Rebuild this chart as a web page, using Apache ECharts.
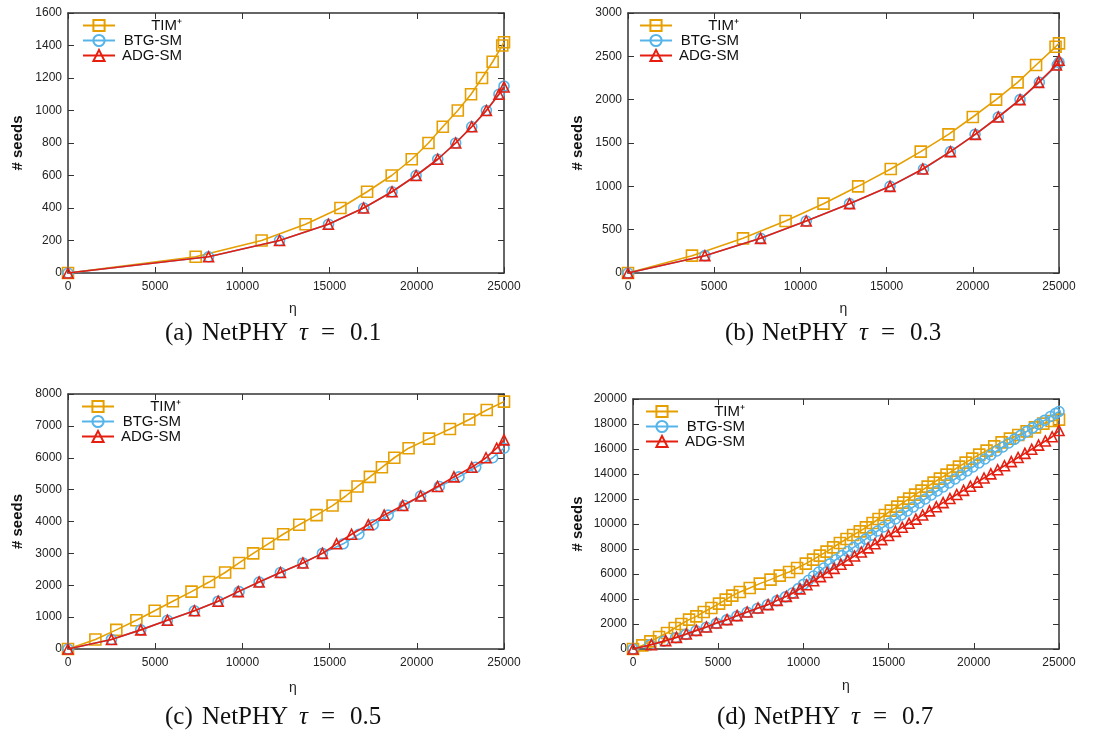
<!DOCTYPE html>
<html>
<head>
<meta charset="utf-8">
<script src="https://cdn.jsdelivr.net/npm/echarts@6/dist/echarts.min.js"></script>
<style>
html,body{margin:0;padding:0;background:#fff;}
#chart{width:1106px;height:733px;}
</style>
</head>
<body>
<div id="chart"></div>
<script>
// ---------- data (η, # seeds) ----------
const seriesNames = ['TIM\u207A', 'BTG-SM', 'ADG-SM'];
const captionLetters = ['(a)', '(b)', '(c)', '(d)'];
const captionNet = 'NetPHY';
const tauValues = ['0.1', '0.3', '0.5', '0.7'];
const yMaxes = [1600, 3000, 8000, 20000];
const yIntervals = [200, 500, 1000, 2000];
const xMax = 25000, xInterval = 5000;

const a_tim = [[0,0],[7320,100],[11100,200],[13620,300],[15620,400],[17150,500],[18560,600],[19710,700],[20670,800],[21490,900],[22350,1000],[23110,1100],[23740,1200],[24350,1300],[24900,1400],[25000,1420]];
const a_btg = [[0,0],[8060,100],[12130,200],[14940,300],[16960,400],[18580,500],[19960,600],[21200,700],[22230,800],[23150,900],[23990,1000],[24710,1100],[25000,1150]];
const a_adg = [[0,0],[8060,100],[12130,200],[14930,300],[16950,400],[18580,500],[19960,600],[21200,700],[22230,800],[23150,900],[23990,1000],[24710,1100],[25000,1145]];

const b_tim = [[0,0],[3710,200],[6670,400],[9140,600],[11340,800],[13350,1000],[15240,1200],[16980,1400],[18590,1600],[20000,1800],[21350,2000],[22600,2200],[23670,2400],[24800,2610],[25000,2650]];
const b_btg = [[0,0],[4460,200],[7690,400],[10340,600],[12850,800],[15200,1000],[17140,1200],[18700,1400],[20130,1600],[21480,1800],[22740,2000],[23860,2200],[24900,2400],[25000,2430]];
const b_adg = [[0,0],[4460,200],[7690,400],[10340,600],[12850,800],[15200,1000],[17100,1200],[18700,1400],[20150,1600],[21480,1800],[22740,2000],[23820,2200],[24850,2400],[25000,2455]];

const c_tim = [[0,0],[1570,300],[2770,600],[3920,900],[4970,1200],[6010,1500],[7080,1800],[8090,2100],[9010,2400],[9810,2700],[10620,3000],[11480,3300],[12340,3600],[13260,3900],[14250,4200],[15170,4500],[15930,4800],[16600,5100],[17310,5400],[18000,5700],[18710,6000],[19530,6300],[20700,6600],[21900,6900],[23010,7200],[24010,7500],[25000,7760]];
const c_btg = [[0,0],[2490,300],[4170,600],[5700,900],[7250,1200],[8610,1500],[9810,1800],[10960,2100],[12180,2400],[13470,2700],[14590,3000],[15780,3300],[16680,3600],[17500,3900],[18360,4200],[19280,4500],[20220,4800],[21290,5100],[22420,5400],[23380,5700],[24350,6000],[25000,6300]];
const c_adg = [[0,0],[2490,300],[4170,600],[5700,900],[7250,1200],[8610,1500],[9760,1800],[10960,2100],[12180,2400],[13470,2700],[14590,3000],[15400,3300],[16260,3600],[17220,3900],[18130,4200],[19190,4500],[20220,4800],[21190,5100],[22130,5400],[23150,5700],[23970,6000],[24580,6300],[25000,6560]];

const d_tim = [[0,0],[550,290],[1020,610],[1530,960],[2000,1280],[2450,1680],[2840,2000],[3290,2350],[3720,2610],[4150,2960],[4600,3280],[5050,3630],[5440,3950],[5830,4270],[6270,4560],[6850,4880],[7440,5230],[8070,5550],[8610,5870],[9160,6160],[9630,6480],[10140,6830],[10570,7150],[10960,7470],[11360,7790],[11750,8130],[12140,8480],[12530,8800],[12920,9120],[13310,9410],[13670,9730],[14060,10080],[14410,10400],[14780,10720],[15130,11070],[15510,11390],[15860,11710],[16210,12030],[16560,12350],[16930,12670],[17290,12990],[17640,13310],[18010,13630],[18400,13950],[18760,14270],[19130,14590],[19520,14910],[19910,15230],[20320,15550],[20750,15870],[21200,16210],[21630,16530],[22120,16830],[22610,17120],[23100,17410],[23590,17730],[24080,18030],[24570,18240],[25000,18350]];
const d_btg = [[0,0],[1000,330],[1800,620],[2500,900],[3100,1170],[3700,1460],[4300,1740],[4900,2050],[5500,2330],[6100,2640],[6700,2940],[7300,3240],[7900,3540],[8450,3870],[8950,4170],[9350,4480],[9700,4830],[10000,5170],[10300,5500],[10600,5840],[10900,6160],[11200,6480],[11550,6810],[11900,7140],[12250,7470],[12600,7800],[12950,8130],[13300,8460],[13650,8790],[14000,9110],[14350,9440],[14700,9760],[15050,10080],[15400,10400],[15750,10720],[16100,11040],[16450,11360],[16800,11680],[17150,12000],[17500,12320],[17850,12640],[18200,12960],[18550,13280],[18900,13600],[19250,13920],[19600,14240],[19950,14560],[20300,14880],[20650,15200],[21000,15520],[21350,15840],[21700,16160],[22050,16480],[22400,16790],[22750,17090],[23100,17390],[23450,17690],[23800,17990],[24150,18290],[24500,18600],[24800,18850],[25000,19000]];
const d_adg = [[0,0],[1080,350],[1920,670],[2550,930],[3130,1200],[3720,1490],[4310,1760],[4890,2080],[5520,2350],[6110,2670],[6700,2960],[7340,3280],[7930,3550],[8460,3890],[9000,4210],[9400,4480],[9800,4810],[10200,5140],[10600,5460],[11000,5790],[11400,6120],[11800,6450],[12200,6780],[12600,7110],[13000,7440],[13400,7760],[13800,8090],[14200,8420],[14600,8750],[15000,9080],[15400,9410],[15800,9740],[16200,10060],[16600,10390],[17000,10720],[17400,11050],[17800,11380],[18200,11710],[18600,12040],[19000,12360],[19400,12690],[19800,13020],[20200,13350],[20600,13680],[21000,14010],[21400,14340],[21800,14660],[22200,14990],[22600,15320],[23000,15650],[23400,15980],[23800,16310],[24200,16640],[24600,16980],[25000,17480]];

const panelData = [[a_tim, a_btg, a_adg], [b_tim, b_btg, b_adg], [c_tim, c_btg, c_adg], [d_tim, d_btg, d_adg]];

// ---------- layout / style ----------
const grids = [
  {left: 68, top: 13, width: 436, height: 260},
  {left: 628, top: 13, width: 431, height: 260},
  {left: 68, top: 394, width: 436, height: 255},
  {left: 633, top: 399, width: 426, height: 250}
];
const legendPos = [{left: 82, top: 18}, {left: 639, top: 18}, {left: 81, top: 399}, {left: 645, top: 404}];
const xNameGap = [29, 29, 32, 30];
const yNameGap = [43, 43, 43, 48];
const xNamePad = [[0,0,0,14],[0,0,0,0],[0,0,0,14],[0,0,0,0]];
const captionPos = [[165, 333], [725, 333], [165, 717], [717, 717]];
const colors = ['#E69F00', '#56B4E9', '#E51E10'];
const symbols = ['rect', 'circle', 'triangle'];
const symbolSizes = [11, 10, 10];
const AXIS_COLOR = '#333';
const FONT = '"Liberation Sans", Arial, sans-serif';
const SERIF = '"Liberation Serif", "Times New Roman", serif';

const xAxes = [], yAxes = [], series = [], legends = [], graphics = [];
grids.forEach((g, i) => {
  const common = {
    gridIndex: i, type: 'value', min: 0,
    axisLine: {show: true, onZero: false, lineStyle: {color: AXIS_COLOR, width: 1.5}},
    axisTick: {show: true, inside: true, length: 6, lineStyle: {color: AXIS_COLOR, width: 1}},
    splitLine: {show: false}
  };
  const lbl = {show: true, color: '#222', fontSize: 12, fontFamily: FONT, formatter: v => String(v)};
  xAxes.push(Object.assign({}, common, {
    position: 'bottom', max: xMax, interval: xInterval,
    axisLabel: Object.assign({}, lbl, {margin: 8}),
    name: '\u03B7', nameLocation: 'middle', nameGap: xNameGap[i],
    nameTextStyle: {color: '#222', fontSize: 14, fontFamily: FONT, padding: xNamePad[i]}
  }));
  xAxes.push(Object.assign({}, common, {
    position: 'top', max: xMax, interval: xInterval, axisLabel: {show: false}
  }));
  yAxes.push(Object.assign({}, common, {
    position: 'left', max: yMaxes[i], interval: yIntervals[i],
    axisLabel: Object.assign({}, lbl, {margin: 6}),
    name: '# seeds', nameLocation: 'middle', nameGap: yNameGap[i], nameRotate: 90,
    nameTextStyle: {color: '#111', fontSize: 15, fontWeight: 'bold', fontFamily: FONT}
  }));
  yAxes.push(Object.assign({}, common, {
    position: 'right', max: yMaxes[i], interval: yIntervals[i], axisLabel: {show: false}
  }));
  panelData[i].forEach((data, k) => {
    series.push({
      type: 'line', name: seriesNames[k], xAxisIndex: 2 * i, yAxisIndex: 2 * i,
      data: data, symbol: symbols[k], symbolSize: symbolSizes[k], showAllSymbol: true,
      color: colors[k],
      lineStyle: {color: colors[k], width: 1.6},
      itemStyle: {color: 'rgba(255,255,255,0)', borderColor: colors[k], borderWidth: 1.6},
      animation: false, z: 2 + k
    });
  });
  legends.push({
    left: legendPos[i].left, top: legendPos[i].top, orient: 'vertical',
    data: seriesNames, itemWidth: 32, itemHeight: 14, itemGap: 0, padding: 0,
    selectedMode: false,
    formatter: name => '{r|' + name + '}',
    textStyle: {color: '#111', fontSize: 15, fontFamily: FONT,
      rich: {r: {width: 62, align: 'right', fontSize: 15, lineHeight: 14, fontFamily: FONT, color: '#111'}}}
  });
  graphics.push({
    type: 'text', x: captionPos[i][0], y: captionPos[i][1],
    style: {
      text: '{p|' + captionLetters[i] + '}{n|' + captionNet + '}{t|\u03C4}{e|=}{v|' + tauValues[i] + '}',
      fill: '#111', font: '25px ' + SERIF,
      textAlign: 'left', textVerticalAlign: 'middle',
      rich: {
        p: {width: 37, fontSize: 25, fontFamily: SERIF, fill: '#111'},
        n: {width: 97, fontSize: 25, fontFamily: SERIF, fill: '#111'},
        t: {width: 22, fontSize: 25, fontStyle: 'italic', fontFamily: SERIF, fill: '#111'},
        e: {width: 29, fontSize: 25, fontFamily: SERIF, fill: '#111'},
        v: {fontSize: 25, fontFamily: SERIF, fill: '#111'}
      }
    }
  });
});

const chart = echarts.init(document.getElementById('chart'), null, {renderer: 'canvas'});
chart.setOption({
  animation: false,
  backgroundColor: '#fff',
  grid: grids,
  xAxis: xAxes,
  yAxis: yAxes,
  legend: legends,
  series: series,
  graphic: graphics
});
</script>
</body>
</html>
